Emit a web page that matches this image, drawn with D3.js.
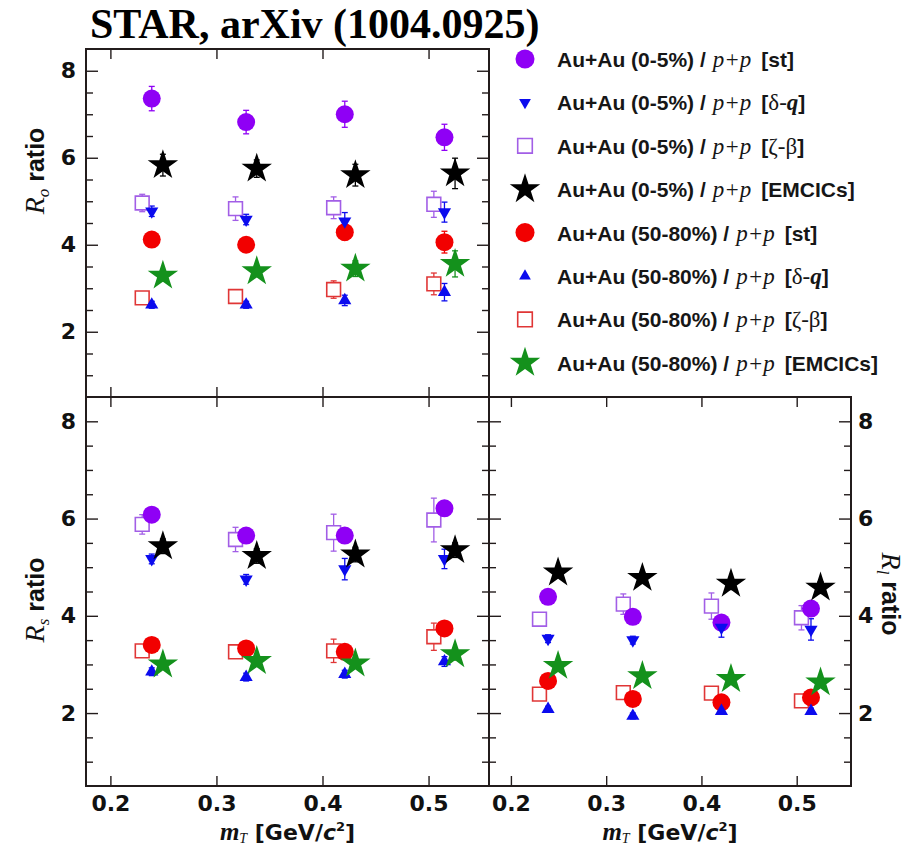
<!DOCTYPE html>
<html><head><meta charset="utf-8">
<script src="https://cdn.jsdelivr.net/npm/d3@7"></script>
<style>body{margin:0;background:#fff}</style>
</head><body>
<svg id="c" width="918" height="848"></svg>
<script>
// ---------- data ----------
const xTicks = [0.2, 0.3, 0.4, 0.5];
const yTicks = [2, 4, 6, 8];
const mT_st = [0.239, 0.328, 0.421, 0.515];   // [st] and [δ-q]
const mT_zb = [0.230, 0.318, 0.4105, 0.505];  // [ζ-β]
const mT_em = [0.2495, 0.338, 0.431, 0.525];  // [EMCICs]

// R_o
const Ro_st0  = [7.36, 6.82, 7.00, 6.47], Ro_st0_err  = [0.28, 0.27, 0.30, 0.30];
const Ro_dq0  = [4.77, 4.58, 4.54, 4.75], Ro_dq0_err  = [0.12, 0.12, 0.20, 0.23];
const Ro_zb0  = [4.96, 4.83, 4.85, 4.93], Ro_zb0_err  = [0.20, 0.27, 0.25, 0.30];
const Ro_em0  = [5.83, 5.75, 5.60, 5.64], Ro_em0_err  = [0.25, 0.20, 0.25, 0.35];
const Ro_st50 = [4.12, 4.00, 4.29, 4.06], Ro_st50_err = [0.12, 0.12, 0.18, 0.25];
const Ro_dq50 = [2.62, 2.62, 2.72, 2.91], Ro_dq50_err = [0.08, 0.08, 0.12, 0.20];
const Ro_zb50 = [2.78, 2.81, 2.97, 3.10], Ro_zb50_err = [0.10, 0.10, 0.20, 0.25];
const Ro_em50 = [3.29, 3.39, 3.45, 3.56], Ro_em50_err = [0.12, 0.12, 0.18, 0.30];
// R_s
const Rs_st0  = [6.08, 5.65, 5.65, 6.21], Rs_st0_err  = [0.15, 0.15, 0.15, 0.15];
const Rs_dq0  = [5.17, 4.75, 4.96, 5.17], Rs_dq0_err  = [0.10, 0.10, 0.22, 0.20];
const Rs_zb0  = [5.88, 5.57, 5.71, 5.97], Rs_zb0_err  = [0.20, 0.25, 0.38, 0.45];
const Rs_em0  = [5.43, 5.23, 5.26, 5.35], Rs_em0_err  = [0.15, 0.15, 0.15, 0.15];
const Rs_st50 = [3.40, 3.33, 3.26, 3.74], Rs_st50_err = [0.10, 0.10, 0.10, 0.12];
const Rs_dq50 = [2.85, 2.74, 2.80, 3.06], Rs_dq50_err = [0.08, 0.08, 0.08, 0.10];
const Rs_zb50 = [3.28, 3.26, 3.28, 3.57], Rs_zb50_err = [0.12, 0.12, 0.24, 0.28];
const Rs_em50 = [3.00, 3.07, 3.02, 3.21], Rs_em50_err = [0.10, 0.10, 0.10, 0.12];
// R_l
const Rl_st0  = [4.39, 3.98, 3.86, 4.15], Rl_st0_err  = [0.10, 0.10, 0.10, 0.12];
const Rl_dq0  = [3.53, 3.50, 3.76, 3.72], Rl_dq0_err  = [0.08, 0.08, 0.20, 0.22];
const Rl_zb0  = [3.93, 4.24, 4.20, 3.96], Rl_zb0_err  = [0.12, 0.21, 0.27, 0.25];
const Rl_em0  = [4.89, 4.78, 4.66, 4.58], Rl_em0_err  = [0.10, 0.10, 0.12, 0.12];
const Rl_st50 = [2.66, 2.29, 2.22, 2.32], Rl_st50_err = [0.08, 0.08, 0.08, 0.08];
const Rl_dq50 = [2.08, 1.94, 2.04, 2.04], Rl_dq50_err = [0.06, 0.06, 0.06, 0.06];
const Rl_zb50 = [2.39, 2.42, 2.41, 2.25], Rl_zb50_err = [0.08, 0.08, 0.08, 0.08];
const Rl_em50 = [2.97, 2.76, 2.70, 2.63], Rl_em50_err = [0.08, 0.08, 0.08, 0.08];

const centralities = ["0-5%", "50-80%"];
const methods = ["st", "δ-q", "ζ-β", "EMCICs"];

// ---------- style ----------
const SANS = "'Liberation Sans', Arial, Helvetica, sans-serif";
const WIDE = "'DejaVu Sans', 'Liberation Sans', sans-serif";
const SERIF = "'Liberation Serif', 'Times New Roman', serif";
const FRAME = "#231c1c";
const seriesStyle = {
  st0:  {type: "circle", color: "#8f00f5"},
  dq0:  {type: "tridown", color: "#0b0bee"},
  zb0:  {type: "square", color: "#a25ee6"},
  em0:  {type: "star", color: "#000000"},
  st50: {type: "circle", color: "#f20000"},
  dq50: {type: "triup", color: "#0b0bee"},
  zb50: {type: "square", color: "#e03636"},
  em50: {type: "star", color: "#14911c"}
};
const seriesOrder = ["st0","dq0","zb0","em0","st50","dq50","zb50","em50"];
const drawOrder = ["zb0","zb50","st0","st50","dq0","dq50","em0","em50"];
const xFor = {st0: mT_st, dq0: mT_st, zb0: mT_zb, em0: mT_em, st50: mT_st, dq50: mT_st, zb50: mT_zb, em50: mT_em};

function panelData(p) {
  return {
    Ro: {st0:[Ro_st0,Ro_st0_err],dq0:[Ro_dq0,Ro_dq0_err],zb0:[Ro_zb0,Ro_zb0_err],em0:[Ro_em0,Ro_em0_err],
         st50:[Ro_st50,Ro_st50_err],dq50:[Ro_dq50,Ro_dq50_err],zb50:[Ro_zb50,Ro_zb50_err],em50:[Ro_em50,Ro_em50_err]},
    Rs: {st0:[Rs_st0,Rs_st0_err],dq0:[Rs_dq0,Rs_dq0_err],zb0:[Rs_zb0,Rs_zb0_err],em0:[Rs_em0,Rs_em0_err],
         st50:[Rs_st50,Rs_st50_err],dq50:[Rs_dq50,Rs_dq50_err],zb50:[Rs_zb50,Rs_zb50_err],em50:[Rs_em50,Rs_em50_err]},
    Rl: {st0:[Rl_st0,Rl_st0_err],dq0:[Rl_dq0,Rl_dq0_err],zb0:[Rl_zb0,Rl_zb0_err],em0:[Rl_em0,Rl_em0_err],
         st50:[Rl_st50,Rl_st50_err],dq50:[Rl_dq50,Rl_dq50_err],zb50:[Rl_zb50,Rl_zb50_err],em50:[Rl_em50,Rl_em50_err]}
  }[p];
}

function symbolPath(type, big) {
  const s = big ? 1.12 : 1;
  switch (type) {
    case "circle": return d3.symbol(d3.symbolCircle, Math.PI * 9 * 9 * s)();
    case "tridown": case "triup": return d3.symbol(d3.symbolTriangle, 75 * (big ? 0.8 : 1))();
    case "square": return d3.symbol(d3.symbolSquare, 190 * s)();
    case "star": return d3.symbol(d3.symbolStar, 16 * 16 / 0.8908130915)();
  }
}
function drawMarker(g, type, color, x, y, big) {
  const p = g.append("path").attr("d", symbolPath(type, big))
    .attr("transform", `translate(${x},${y})` + (type === "tridown" ? " rotate(180)" : ""));
  if (type === "square") p.attr("fill", "#fff").attr("stroke", color).attr("stroke-width", 1.6);
  else p.attr("fill", color);
}

const svg = d3.select("#c");

// ---------- panels ----------
const panels = [
  {key: "Ro", x0: 86, x1: 489, y0: 49, y1: 397, side: "left", xlabels: false},
  {key: "Rs", x0: 86, x1: 489, y0: 397, y1: 786, side: "left", xlabels: true},
  {key: "Rl", x0: 489, x1: 851, y0: 397, y1: 786, side: "right", xlabels: true}
];
const minorY = d3.range(1, 8.01, 0.5).filter(v => v % 2 !== 0);

panels.forEach(P => {
  const x = d3.scaleLinear().domain([0.177, 0.557]).range([P.x0, P.x1]);
  const y = d3.scaleLinear().domain([0.5, 8.5]).range([P.y1, P.y0]);
  const g = svg.append("g");

  const styleAxis = a => {
    a.select(".domain").remove();
    a.selectAll("line").attr("stroke", FRAME).attr("stroke-width", 1.4);
    a.selectAll("text").attr("font-family", WIDE).attr("font-weight", "bold")
      .attr("font-size", 22).attr("fill", "#111");
  };
  const yl = g.append("g").attr("transform", `translate(${P.x0},0)`)
    .call(d3.axisLeft(y).tickValues(yTicks).tickSizeInner(-12).tickSizeOuter(0).tickPadding(10)
      .tickFormat(P.side === "left" ? d3.format("d") : () => ""));
  styleAxis(yl);
  const ylm = g.append("g").attr("transform", `translate(${P.x0},0)`)
    .call(d3.axisLeft(y).tickValues(minorY).tickSizeInner(-7).tickSizeOuter(0).tickFormat(() => ""));
  styleAxis(ylm);
  const yr = g.append("g").attr("transform", `translate(${P.x1},0)`)
    .call(d3.axisRight(y).tickValues(yTicks).tickSizeInner(-12).tickSizeOuter(0).tickPadding(7)
      .tickFormat(P.side === "right" ? d3.format("d") : () => ""));
  styleAxis(yr);
  const yrm = g.append("g").attr("transform", `translate(${P.x1},0)`)
    .call(d3.axisRight(y).tickValues(minorY).tickSizeInner(-7).tickSizeOuter(0).tickFormat(() => ""));
  styleAxis(yrm);
  const xb = g.append("g").attr("transform", `translate(0,${P.y1})`)
    .call(d3.axisBottom(x).tickValues(xTicks).tickSizeInner(-10).tickSizeOuter(0).tickPadding(9)
      .tickFormat(P.xlabels ? d3.format(".1f") : () => ""));
  styleAxis(xb);
  const xt = g.append("g").attr("transform", `translate(0,${P.y0})`)
    .call(d3.axisTop(x).tickValues(xTicks).tickSizeInner(-10).tickSizeOuter(0).tickFormat(() => ""));
  styleAxis(xt);

  const D = panelData(P.key);
  const dg = g.append("g");
  drawOrder.forEach(k => {
    const st = seriesStyle[k];
    const [vals, errs] = D[k];
    vals.forEach((v, i) => {
      const cx = x(xFor[k][i]);
      const e = errs[i];
      dg.append("line").attr("x1", cx).attr("x2", cx).attr("y1", y(v - e)).attr("y2", y(v + e))
        .attr("stroke", st.color).attr("stroke-width", 1.3);
      [v - e, v + e].forEach(w => dg.append("line").attr("x1", cx - 3).attr("x2", cx + 3)
        .attr("y1", y(w)).attr("y2", y(w)).attr("stroke", st.color).attr("stroke-width", 1.3));
    });
  });
  drawOrder.forEach(k => {
    const st = seriesStyle[k];
    D[k][0].forEach((v, i) => drawMarker(dg, st.type, st.color, x(xFor[k][i]), y(v), false));
  });

  g.append("rect").attr("x", P.x0).attr("y", P.y0).attr("width", P.x1 - P.x0).attr("height", P.y1 - P.y0)
    .attr("fill", "none").attr("stroke", FRAME).attr("stroke-width", 2);

  if (P.xlabels) {
    const t = g.append("text").attr("x", (P.x0 + P.x1) / 2).attr("y", 840).attr("text-anchor", "middle")
      .attr("fill", "#111");
    t.append("tspan").attr("font-family", SERIF).attr("font-style", "italic").attr("font-weight", "bold")
      .attr("font-size", 25).text("m");
    t.append("tspan").attr("font-family", SERIF).attr("font-style", "italic").attr("font-size", 14)
      .attr("dy", 3).text("T");
    t.append("tspan").attr("font-family", WIDE).attr("font-weight", "bold").attr("font-size", 22)
      .attr("dy", -3).text(" [GeV/");
    t.append("tspan").attr("font-family", WIDE).attr("font-weight", "bold").attr("font-style", "italic")
      .attr("font-size", 22).text("c");
    t.append("tspan").attr("font-family", WIDE).attr("font-weight", "bold").attr("font-size", 13)
      .attr("dy", -9).text("2");
    t.append("tspan").attr("font-family", WIDE).attr("font-weight", "bold").attr("font-size", 22)
      .attr("dy", 9).text("]");
  }
});

function yLabel(tx, ty, rot, sub) {
  const t = svg.append("text").attr("transform", `translate(${tx},${ty}) rotate(${rot})`)
    .attr("text-anchor", "middle").attr("fill", "#111");
  t.append("tspan").attr("font-family", SERIF).attr("font-style", "italic").attr("font-size", 28).text("R");
  t.append("tspan").attr("font-family", SERIF).attr("font-style", "italic").attr("font-size", 17)
    .attr("dy", 5).text(sub);
  t.append("tspan").attr("font-family", SANS).attr("font-weight", "bold").attr("font-size", 25)
    .attr("dy", -5).text(" ratio");
}
yLabel(44, 171, -90, "o");
yLabel(44, 600, -90, "s");
yLabel(882, 594, 90, "l");

svg.append("text").attr("x", 90).attr("y", 38).attr("font-family", SERIF).attr("font-weight", "bold")
  .attr("font-size", 42).attr("fill", "#000").text("STAR, arXiv (1004.0925)");

const legY0 = 59, legStep = 43.4;
seriesOrder.forEach((k, i) => {
  const st = seriesStyle[k];
  const cy = legY0 + i * legStep;
  drawMarker(svg, st.type, st.color, 525, cy, true);
  const cent = centralities[Math.floor(i / 4)];
  const meth = methods[i % 4];
  const t = svg.append("text").attr("x", 557).attr("y", cy + 8).attr("fill", "#161616");
  t.append("tspan").attr("font-family", SANS).attr("font-weight", "bold").attr("font-size", 21)
    .text(`Au+Au (${cent}) /`);
  t.append("tspan").attr("font-family", SERIF).attr("font-style", "italic").attr("font-size", 23)
    .attr("dx", 7).text("p+p");
  const b = (txt, fam, style, w) => t.append("tspan").attr("font-family", fam).attr("font-style", style || "normal")
    .attr("font-weight", w || "normal").attr("font-size", fam === SANS ? 21 : 23).text(txt);
  t.append("tspan").attr("font-family", SANS).attr("font-weight", "bold").attr("font-size", 21)
    .attr("dx", 10).text("[");
  if (meth === "δ-q") { b("δ-", SERIF); b("q", SERIF, "italic", "bold"); }
  else if (meth === "ζ-β") { b("ζ-β", SERIF); }
  else { b(meth, SANS, "normal", "bold"); }
  b("]", SANS, "normal", "bold");
});
</script>
</body></html>
